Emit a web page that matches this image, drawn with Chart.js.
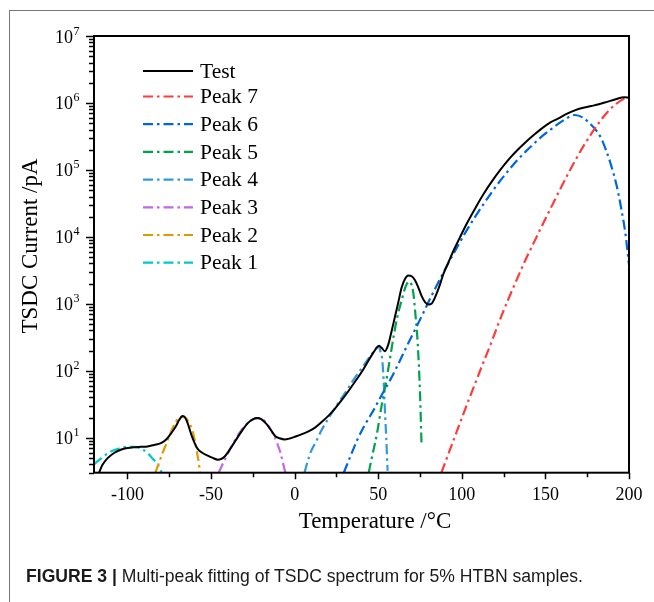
<!DOCTYPE html>
<html>
<head>
<meta charset="utf-8">
<script src="https://cdn.jsdelivr.net/npm/chart.js@4.4.1/dist/chart.umd.min.js"></script>
<style>
  html, body { margin: 0; padding: 0; background: #fff; }
  #wrap { position: relative; width: 654px; height: 602px; overflow: hidden; background: #fff; }
  #frame { position: absolute; left: 9px; top: 10px; width: 700px; height: 700px; border-top: 1px solid #777; border-left: 1px solid #777; }
  #chart { position: absolute; left: 0; top: 0; }
  #caption { position: absolute; left: 26px; top: 566px; font-family: 'Liberation Sans', Arial, sans-serif; font-size: 18px; line-height: 21px; color: #1a1a1a; white-space: nowrap; transform-origin: 0 0; }
</style>
</head>
<body>
<div id="wrap">
  <div id="frame"></div>
  <canvas id="chart" width="654" height="602"></canvas>
  <div id="caption"><b>FIGURE 3 |</b> Multi-peak fitting of TSDC spectrum for 5% HTBN samples.</div>
</div>
<script>
// values: temperature in °C, current in pA
const testTemps = [-117, -115, -112, -108, -104, -100, -96, -92, -88, -84, -80, -77, -74, -71, -69, -67, -65.5, -64, -62, -60, -58, -55, -52, -49, -46, -44, -42, -40, -37, -34, -31, -28, -25, -22.5, -20, -17, -14, -11.5, -9, -6, -3, 0, 4, 8, 12, 16, 20, 24, 28, 32, 36, 40, 44, 47, 49, 50.5, 52, 54, 56, 58, 60, 62, 64, 66, 68, 70, 72, 74, 76, 78, 80, 82, 84, 86.5, 89, 92, 95, 98.6, 103, 108.5, 113, 118.3, 123, 128.2, 133, 138, 143, 147.9, 153, 157.8, 163, 167.6, 172, 177.5, 182, 187.3, 192, 197.2, 200];
const testCurrent = [3.0, 3.9, 4.9, 5.9, 6.6, 7.0, 7.2, 7.3, 7.4, 7.8, 8.3, 9.3, 11.5, 14.8, 18.5, 21, 20, 16.5, 11.5, 8.5, 6.8, 5.9, 5.4, 5.0, 4.7, 4.8, 5.2, 6.0, 7.8, 10.2, 13.2, 16.5, 18.8, 19.7, 19, 16.2, 12.8, 10.5, 9.8, 9.4, 9.7, 10.3, 11.2, 12.3, 14.0, 17, 21, 27, 36, 49, 68, 95, 140, 185, 220, 236, 220, 196, 245, 390, 640, 1050, 1750, 2350, 2640, 2580, 2250, 1750, 1300, 1060, 975, 1010, 1250, 1800, 2800, 4150, 6200, 9500, 15800, 28000, 43600, 69000, 100000, 145000, 195000, 257000, 331000, 417000, 513000, 589000, 692000, 776000, 841000, 900000, 955000, 1047000, 1135000, 1216000, 1200000];

const peak7Temps = [87.8, 92, 97, 102, 107, 112, 117, 122, 127.5, 133, 138, 143, 147.9, 153, 157.8, 163, 167.6, 172.5, 177.5, 182.5, 187.3, 192, 197.2, 200];
const peak7Current = [3.0, 5.75, 12.4, 26.6, 56, 117, 240, 513, 1120, 2340, 4470, 8130, 14500, 26300, 45700, 82200, 135000, 221000, 347000, 525000, 741000, 955000, 1160000, 1220000];

const peak6Temps = [29.4, 33, 37.5, 42, 47.3, 52, 57.2, 62, 67, 72, 76.9, 81.5, 86.8, 92.7, 98.6, 103, 108.5, 113, 118.3, 123, 128.2, 133, 138, 143, 147.9, 153, 157.8, 162, 167.6, 172.5, 177.5, 180.5, 183.4, 186.5, 189.3, 192.5, 195.3, 198, 200];
const peak6Current = [3.0, 5.0, 9.3, 15.5, 26, 43, 73, 126, 230, 410, 725, 1260, 2300, 4400, 8100, 12600, 20900, 30900, 47900, 69000, 100000, 138000, 186000, 245000, 316000, 398000, 490000, 575000, 661000, 603000, 468000, 385000, 295000, 190000, 117000, 60000, 27000, 10500, 3800];

const peak5Temps = [44.3, 46, 49.3, 52, 54.2, 57, 59.2, 61.5, 64.1, 66, 67.5, 68.8, 70, 71, 72, 73.6, 75, 75.9];
const peak5Current = [3.0, 4.8, 11.7, 30, 58, 150, 325, 650, 1150, 1700, 2050, 2150, 1900, 1450, 815, 260, 46, 8.0];

const peak4Temps = [5.9, 8, 10, 13, 16, 20, 25, 30, 35, 40, 44, 47, 49.5, 50.5, 51.3, 52.2, 53.2, 54.2, 54.8, 55.6];
const peak4Current = [3.0, 4.6, 6.4, 8.9, 12.8, 19, 30, 46, 72, 108, 150, 190, 225, 228, 195, 165, 75, 20, 10, 3.2];

const peak3Temps = [-45.4, -42, -39, -36, -33, -30, -27, -24, -22, -19, -16, -13, -10.5, -8.5, -7, -5.5];
const peak3Current = [3.0, 4.6, 6.5, 8.9, 11.8, 14.8, 17.5, 19.2, 19.5, 18.6, 15.5, 11.5, 8.3, 6.0, 4.2, 3.0];

const peak2Temps = [-83.3, -81, -79, -77, -75, -73, -71, -69, -67, -65, -63, -61, -59.5, -58.3, -57.3, -56.6];
const peak2Current = [3.0, 4.3, 5.9, 7.8, 10.5, 13.8, 17.3, 19.8, 20.5, 19.5, 16.5, 12.5, 8.5, 5.8, 4.2, 3.0];

const peak1Temps = [-120, -115, -110, -105, -100, -96, -92, -88, -85, -82, -79.5];
const peak1Current = [4.0, 5.1, 6.2, 6.9, 7.3, 7.3, 6.9, 5.9, 4.9, 4.0, 3.0];

const xTickValues = [-100, -50, 0, 50, 100, 150, 200];
const yDecades = [1, 2, 3, 4, 5, 6, 7];

const serif = "'Liberation Serif', 'Times New Roman', serif";
const dashDot = [10, 4, 2.5, 4];

function toPoints(temps, values) {
  return temps.map((t, i) => ({ x: t, y: values[i] }));
}

function curve(label, temps, values, color, dashed) {
  return {
    label,
    data: toPoints(temps, values),
    borderColor: color,
    backgroundColor: color,
    borderWidth: dashed ? 2.2 : 2,
    borderDash: dashed ? dashDot : [],
    pointRadius: 0,
    cubicInterpolationMode: 'monotone',
    fill: false,
  };
}

const datasets = [
  curve('Test', testTemps, testCurrent, '#000000', false),
  curve('Peak 7', peak7Temps, peak7Current, '#FF3B3B', true),
  curve('Peak 6', peak6Temps, peak6Current, '#0066E0', true),
  curve('Peak 5', peak5Temps, peak5Current, '#00A24E', true),
  curve('Peak 4', peak4Temps, peak4Current, '#3399DD', true),
  curve('Peak 3', peak3Temps, peak3Current, '#C466E8', true),
  curve('Peak 2', peak2Temps, peak2Current, '#E09A00', true),
  curve('Peak 1', peak1Temps, peak1Current, '#00C8CC', true),
];

// box, tick marks, axis titles, superscript y labels and the legend inside the plot
const decor = {
  id: 'decor',
  afterDraw(chart) {
    const { ctx, chartArea: a, scales: { x, y } } = chart;
    ctx.save();
    ctx.strokeStyle = '#000';
    ctx.fillStyle = '#000';
    ctx.lineWidth = 2;
    ctx.setLineDash([]);
    ctx.strokeRect(a.left, a.top, a.right - a.left, a.bottom - a.top);

    ctx.lineWidth = 1.5;
    ctx.beginPath();
    for (let v = -100; v <= 200; v += 25) {
      const px = Math.round(x.getPixelForValue(v)) + 0.5;
      const len = v % 50 === 0 ? 6.5 : 4.5;
      ctx.moveTo(px, a.bottom);
      ctx.lineTo(px, a.bottom + len);
    }
    for (let e = 0; e < 7; e++) {
      for (let m = 1; m <= 9; m++) {
        const v = m * Math.pow(10, e);
        if (v < y.min || v > y.max) continue;
        const py = Math.round(y.getPixelForValue(v)) + 0.5;
        const len = m === 1 ? 8 : 5;
        ctx.moveTo(a.left - len, py);
        ctx.lineTo(a.left, py);
      }
    }
    const topPy = Math.round(y.getPixelForValue(1e7)) + 0.5;
    ctx.moveTo(a.left - 8, topPy);
    ctx.lineTo(a.left, topPy);
    ctx.stroke();

    yDecades.forEach((e) => {
      const py = y.getPixelForValue(Math.pow(10, e));
      ctx.font = '18px ' + serif;
      ctx.textAlign = 'right';
      ctx.textBaseline = 'alphabetic';
      ctx.fillText('10', 73, py + 6.5);
      ctx.font = '12px ' + serif;
      ctx.textAlign = 'left';
      ctx.fillText(String(e), 73.5, py - 1.5);
    });

    ctx.font = '23px ' + serif;
    ctx.textAlign = 'center';
    ctx.textBaseline = 'alphabetic';
    ctx.fillText('Temperature /°C', 375, 528);
    ctx.save();
    ctx.translate(37, 246);
    ctx.rotate(-Math.PI / 2);
    ctx.fillText('TSDC Current /pA', 0, 0);
    ctx.restore();

    const rows = [71, 96.5, 124.2, 151.9, 179.6, 207.3, 235, 262.7];
    chart.data.datasets.forEach((ds, i) => {
      const ly = rows[i];
      ctx.strokeStyle = ds.borderColor;
      ctx.lineWidth = ds.borderWidth;
      ctx.setLineDash(ds.borderDash);
      ctx.beginPath();
      ctx.moveTo(143, ly);
      ctx.lineTo(193, ly);
      ctx.stroke();
      ctx.setLineDash([]);
      ctx.fillStyle = '#000';
      ctx.font = '21.5px ' + serif;
      ctx.textAlign = 'left';
      ctx.textBaseline = 'middle';
      ctx.fillText(ds.label, 200, ly + 1);
    });
    ctx.restore();
  },
};

new Chart(document.getElementById('chart').getContext('2d'), {
  type: 'line',
  data: { datasets },
  options: {
    responsive: false,
    animation: false,
    layout: { padding: { left: 0, top: 36, right: 18, bottom: 66.3 } },
    plugins: { legend: { display: false }, tooltip: { enabled: false } },
    scales: {
      x: {
        type: 'linear',
        min: -120,
        max: 200,
        afterBuildTicks: (s) => { s.ticks = xTickValues.map((v) => ({ value: v })); },
        afterFit: (s) => { s.height = 63; },
        grid: { display: false, drawTicks: false },
        border: { display: false },
        ticks: { color: '#000', font: { family: serif, size: 18 }, padding: 11.5, maxRotation: 0 },
        title: { display: false },
      },
      y: {
        type: 'logarithmic',
        min: 3,
        max: 1e7,
        afterFit: (s) => { s.width = 94; },
        grid: { display: false, drawTicks: false },
        border: { display: false },
        ticks: { display: false },
        title: { display: false },
      },
    },
  },
  plugins: [decor],
});

// fit the caption to the width it has in the figure
const cap = document.getElementById('caption');
cap.style.transform = 'scaleX(' + (557 / cap.offsetWidth) + ')';
</script>
</body>
</html>
